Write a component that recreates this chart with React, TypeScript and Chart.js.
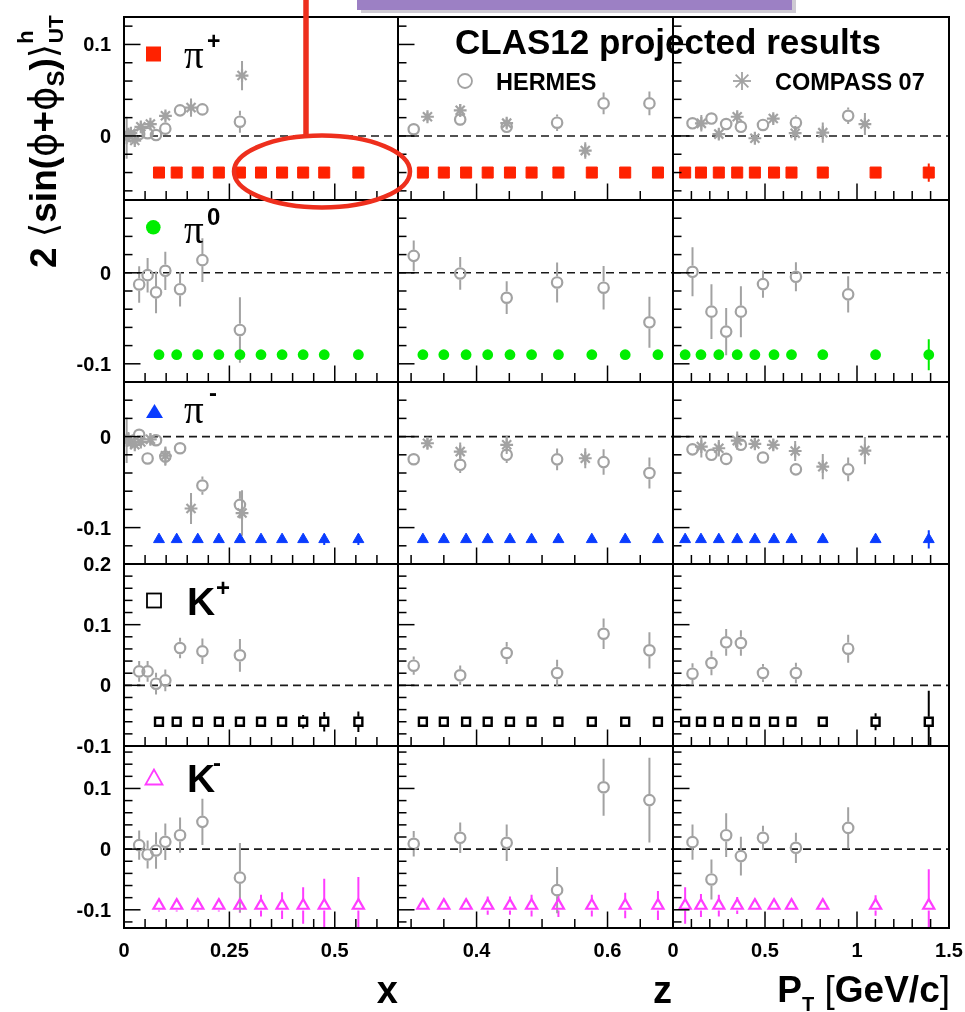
import React, { useEffect, useRef } from 'react';
import { Chart, registerables } from 'chart.js';

Chart.register(...registerables);

// ---------- kinematic bins ----------
const hermesX = [0.036, 0.056, 0.076, 0.098, 0.133, 0.186, 0.275];
const hermesZ = [0.304, 0.375, 0.446, 0.523, 0.594, 0.664];
const hermesPT = [0.106, 0.209, 0.289, 0.369, 0.489, 0.668, 0.952];
const compassX = [0.0063, 0.0105, 0.0164, 0.0256, 0.0399, 0.0626, 0.0983, 0.159, 0.28];
const compassZ = [0.325, 0.375, 0.446, 0.566];
const compassPT = [0.154, 0.249, 0.349, 0.445, 0.545, 0.664, 0.814, 1.043];
const clasX = [0.083, 0.125, 0.175, 0.225, 0.275, 0.325, 0.375, 0.425, 0.475, 0.556];
const clasZ = [0.318, 0.35, 0.384, 0.417, 0.451, 0.484, 0.525, 0.576, 0.627, 0.677];
const clasPT = [0.066, 0.152, 0.249, 0.349, 0.445, 0.549, 0.644, 0.814, 1.101, 1.39];

// ---------- pi+ ----------
const pipHermesX = [0.002, 0.003, 0.001, 0.008, 0.028, 0.029, 0.0156];
const pipHermesXErr = [0.006, 0.005, 0.005, 0.005, 0.005, 0.006, 0.012];
const pipHermesZ = [0.0073, 0.018, 0.01, 0.0145, 0.0356, 0.0356];
const pipHermesZErr = [0.004, 0.007, 0.006, 0.009, 0.012, 0.013];
const pipHermesPT = [0.0138, 0.019, 0.013, 0.01, 0.012, 0.0145, 0.022];
const pipHermesPTErr = [0.004, 0.004, 0.004, 0.004, 0.005, 0.008, 0.009];
const pipCompassX = [-0.002, 0.001, 0.003, -0.005, 0.01, 0.013, 0.022, 0.031, 0.066];
const pipCompassXErr = [0.023, 0.008, 0.006, 0.005, 0.005, 0.004, 0.005, 0.01, 0.016];
const pipCompassZ = [0.021, 0.028, 0.014, -0.016];
const pipCompassZErr = [0.005, 0.007, 0.005, 0.009];
const pipCompassPT = [0.0138, 0.002, 0.021, -0.0025, 0.019, 0.003, 0.0036, 0.013];
const pipCompassPTErr = [0.009, 0.005, 0.005, 0.005, 0.005, 0.008, 0.011, 0.012];
const pipClas = [-0.04, -0.04, -0.04, -0.04, -0.04, -0.04, -0.04, -0.04, -0.04, -0.04];
const pipClasXErr = [0.002, 0.002, 0.002, 0.002, 0.002, 0.002, 0.002, 0.002, 0.002, 0.003];
const pipClasZErr = [0.002, 0.002, 0.002, 0.002, 0.002, 0.002, 0.002, 0.002, 0.002, 0.002];
const pipClasPTErr = [0.002, 0.002, 0.002, 0.002, 0.002, 0.002, 0.002, 0.002, 0.003, 0.01];

// ---------- pi0 ----------
const pi0HermesX = [-0.0128, -0.0026, -0.0215, 0.0022, -0.018, 0.0139, -0.0628];
const pi0HermesXErr = [0.02, 0.019, 0.023, 0.021, 0.019, 0.024, 0.036];
const pi0HermesZ = [0.0186, -0.0007, -0.0274, -0.0106, -0.0164, -0.0544];
const pi0HermesZErr = [0.017, 0.018, 0.018, 0.022, 0.024, 0.028];
const pi0HermesPT = [0.0011, -0.0427, -0.0646, -0.0427, -0.0124, -0.0044, -0.0237];
const pi0HermesPTErr = [0.027, 0.03, 0.026, 0.028, 0.015, 0.016, 0.02];
const pi0Clas = [-0.09, -0.09, -0.09, -0.09, -0.09, -0.09, -0.09, -0.09, -0.09, -0.09];
const pi0ClasXErr = [0.002, 0.002, 0.002, 0.002, 0.002, 0.002, 0.002, 0.002, 0.002, 0.003];
const pi0ClasZErr = [0.002, 0.002, 0.002, 0.002, 0.002, 0.002, 0.002, 0.002, 0.002, 0.003];
const pi0ClasPTErr = [0.002, 0.002, 0.002, 0.002, 0.002, 0.002, 0.002, 0.002, 0.003, 0.017];

// ---------- pi- ----------
const pimHermesX = [0.002, -0.024, -0.004, -0.022, -0.0128, -0.0538, -0.075];
const pimHermesXErr = [0.005, 0.005, 0.005, 0.01, 0.005, 0.01, 0.015];
const pimHermesZ = [-0.0249, -0.031, -0.02, -0.025, -0.028, -0.04];
const pimHermesZErr = [0.004, 0.009, 0.009, 0.012, 0.014, 0.017];
const pimHermesPT = [-0.014, -0.02, -0.0245, -0.009, -0.023, -0.036, -0.036];
const pimHermesPTErr = [0.004, 0.005, 0.006, 0.005, 0.004, 0.006, 0.013];
const pimCompassX = [-0.004, -0.003, -0.006, -0.009, -0.006, -0.003, -0.021, -0.079, -0.084];
const pimCompassXErr = [0.025, 0.008, 0.006, 0.005, 0.005, 0.006, 0.01, 0.017, 0.025];
const pimCompassZ = [-0.0073, -0.0165, -0.009, -0.0238];
const pimCompassZErr = [0.006, 0.01, 0.01, 0.011];
const pimCompassPT = [-0.011, -0.0128, -0.0044, -0.008, -0.009, -0.0158, -0.033, -0.0154];
const pimCompassPTErr = [0.012, 0.009, 0.01, 0.006, 0.006, 0.011, 0.014, 0.015];
const pimClas = [-0.113, -0.113, -0.113, -0.113, -0.113, -0.113, -0.113, -0.113, -0.113, -0.113];
const pimClasXErr = [0.002, 0.002, 0.002, 0.002, 0.002, 0.002, 0.002, 0.003, 0.006, 0.006];
const pimClasZErr = [0.002, 0.002, 0.002, 0.002, 0.002, 0.002, 0.002, 0.002, 0.002, 0.003];
const pimClasPTErr = [0.002, 0.002, 0.002, 0.002, 0.002, 0.002, 0.002, 0.002, 0.003, 0.01];

// ---------- K+ ----------
const kpHermesX = [0.023, 0.023, 0.0027, 0.0082, 0.0615, 0.056, 0.0495];
const kpHermesXErr = [0.017, 0.017, 0.018, 0.018, 0.017, 0.021, 0.027];
const kpHermesZ = [0.0324, 0.0165, 0.0533, 0.0203, 0.085, 0.0577];
const kpHermesZErr = [0.015, 0.016, 0.018, 0.022, 0.025, 0.03];
const kpHermesPT = [0.0192, 0.0368, 0.0709, 0.0698, 0.0203, 0.0203, 0.0604];
const kpHermesPTErr = [0.017, 0.02, 0.022, 0.021, 0.015, 0.017, 0.023];
const kpClas = [-0.06, -0.06, -0.06, -0.06, -0.06, -0.06, -0.06, -0.06, -0.06, -0.06];
const kpClasXErr = [0.003, 0.003, 0.003, 0.003, 0.003, 0.003, 0.003, 0.011, 0.016, 0.017];
const kpClasZErr = [0.003, 0.003, 0.003, 0.003, 0.003, 0.003, 0.003, 0.003, 0.003, 0.003];
const kpClasPTErr = [0.003, 0.003, 0.003, 0.003, 0.003, 0.003, 0.003, 0.003, 0.014, 0.051];

// ---------- K- ----------
const kmHermesX = [0.0066, -0.0088, -0.0022, 0.0121, 0.023, 0.045, -0.047];
const kmHermesXErr = [0.024, 0.023, 0.03, 0.03, 0.029, 0.038, 0.057];
const kmHermesZ = [0.0088, 0.0187, 0.0104, -0.0676, 0.102, 0.0808];
const kmHermesZErr = [0.021, 0.025, 0.03, 0.038, 0.047, 0.07];
const kmHermesPT = [0.0115, -0.05, 0.023, -0.0115, 0.0187, 0.0022, 0.035];
const kmHermesPTErr = [0.029, 0.033, 0.036, 0.032, 0.02, 0.025, 0.034];
const kmClas = [-0.093, -0.093, -0.093, -0.093, -0.093, -0.093, -0.093, -0.093, -0.093, -0.093];
const kmClasXErr = [0.01, 0.01, 0.01, 0.01, 0.012, 0.018, 0.022, 0.03, 0.044, 0.047];
const kmClasZErr = [0.006, 0.006, 0.008, 0.015, 0.015, 0.018, 0.019, 0.018, 0.021, 0.024];
const kmClasPTErr = [0.03, 0.019, 0.018, 0.014, 0.008, 0.006, 0.006, 0.006, 0.017, 0.06];

// ---------- axes ----------
const xRanges = [[0, 0.65], [0.28, 0.7], [0, 1.5]];
const yRanges = [[-0.07, 0.13], [-0.12, 0.08], [-0.14, 0.06], [-0.1, 0.2], [-0.13, 0.17]];
const xMinorSteps = [0.05, 0.05, 0.1];
const xMajorSteps = [0.25, 0.2, 0.5];
const yMinorStep = 0.02;
const yMajorStep = 0.1;
const xTickLabels = [[0, 0.25, 0.5], [0.4, 0.6], [0, 0.5, 1, 1.5]];
const yTickLabels = [[0.1, 0], [0, -0.1], [0, -0.1], [0.2, 0.1, 0, -0.1], [0.1, 0, -0.1]];

// ---------- page layout ----------
const colLeft = [124, 398, 673];
const colRight = [398, 673, 949];
const rowTop = [17, 200, 382, 564, 746];
const rowBottom = [200, 382, 564, 746, 928];

const GRAY = '#a2a2a2';
const SANS = '"Liberation Sans", Arial, Helvetica, sans-serif';

type Obs = { x: number[]; y: number[]; e: number[] };
type Style = {
  color: string;
  pointStyle: string;
  radius: number;
  fill: boolean;
  borderWidth: number;
  gap: number;
};

const hadronStyles: Style[] = [
  { color: '#ff2200', pointStyle: 'rect', radius: 7.8, fill: true, borderWidth: 1, gap: 0 },
  { color: '#00ee00', pointStyle: 'circle', radius: 5.4, fill: true, borderWidth: 0, gap: 0 },
  { color: '#0a3cff', pointStyle: 'triangle', radius: 6.3, fill: true, borderWidth: 1, gap: 0 },
  { color: '#000000', pointStyle: 'rect', radius: 5.6, fill: false, borderWidth: 2.4, gap: 5 },
  { color: '#ff3cff', pointStyle: 'triangle', radius: 6.4, fill: false, borderWidth: 2.2, gap: 5 },
];

type PanelData = { hermes: Obs; compass?: Obs; clas: Obs };

const panels: PanelData[][] = [
  [
    { hermes: { x: hermesX, y: pipHermesX, e: pipHermesXErr }, compass: { x: compassX, y: pipCompassX, e: pipCompassXErr }, clas: { x: clasX, y: pipClas, e: pipClasXErr } },
    { hermes: { x: hermesZ, y: pipHermesZ, e: pipHermesZErr }, compass: { x: compassZ, y: pipCompassZ, e: pipCompassZErr }, clas: { x: clasZ, y: pipClas, e: pipClasZErr } },
    { hermes: { x: hermesPT, y: pipHermesPT, e: pipHermesPTErr }, compass: { x: compassPT, y: pipCompassPT, e: pipCompassPTErr }, clas: { x: clasPT, y: pipClas, e: pipClasPTErr } },
  ],
  [
    { hermes: { x: hermesX, y: pi0HermesX, e: pi0HermesXErr }, clas: { x: clasX, y: pi0Clas, e: pi0ClasXErr } },
    { hermes: { x: hermesZ, y: pi0HermesZ, e: pi0HermesZErr }, clas: { x: clasZ, y: pi0Clas, e: pi0ClasZErr } },
    { hermes: { x: hermesPT, y: pi0HermesPT, e: pi0HermesPTErr }, clas: { x: clasPT, y: pi0Clas, e: pi0ClasPTErr } },
  ],
  [
    { hermes: { x: hermesX, y: pimHermesX, e: pimHermesXErr }, compass: { x: compassX, y: pimCompassX, e: pimCompassXErr }, clas: { x: clasX, y: pimClas, e: pimClasXErr } },
    { hermes: { x: hermesZ, y: pimHermesZ, e: pimHermesZErr }, compass: { x: compassZ, y: pimCompassZ, e: pimCompassZErr }, clas: { x: clasZ, y: pimClas, e: pimClasZErr } },
    { hermes: { x: hermesPT, y: pimHermesPT, e: pimHermesPTErr }, compass: { x: compassPT, y: pimCompassPT, e: pimCompassPTErr }, clas: { x: clasPT, y: pimClas, e: pimClasPTErr } },
  ],
  [
    { hermes: { x: hermesX, y: kpHermesX, e: kpHermesXErr }, clas: { x: clasX, y: kpClas, e: kpClasXErr } },
    { hermes: { x: hermesZ, y: kpHermesZ, e: kpHermesZErr }, clas: { x: clasZ, y: kpClas, e: kpClasZErr } },
    { hermes: { x: hermesPT, y: kpHermesPT, e: kpHermesPTErr }, clas: { x: clasPT, y: kpClas, e: kpClasPTErr } },
  ],
  [
    { hermes: { x: hermesX, y: kmHermesX, e: kmHermesXErr }, clas: { x: clasX, y: kmClas, e: kmClasXErr } },
    { hermes: { x: hermesZ, y: kmHermesZ, e: kmHermesZErr }, clas: { x: clasZ, y: kmClas, e: kmClasZErr } },
    { hermes: { x: hermesPT, y: kmHermesPT, e: kmHermesPTErr }, clas: { x: clasPT, y: kmClas, e: kmClasPTErr } },
  ],
];

const fmt = (v: number) => (v === 0 ? '0' : String(v));

// Draws the ROOT-style frame: dashed zero line, vertical error bars,
// inward ticks on the left and bottom edges, frame and tick labels.
const panelFramePlugin = {
  id: 'panelFrame',
  beforeDatasetsDraw(chart: any) {
    const { ctx, chartArea: a } = chart;
    const ys = chart.scales.y;
    ctx.save();
    const y0 = ys.getPixelForValue(0);
    ctx.strokeStyle = '#1a1a1a';
    ctx.lineWidth = 1.6;
    ctx.setLineDash([8, 5]);
    ctx.beginPath();
    ctx.moveTo(a.left, y0);
    ctx.lineTo(a.right, y0);
    ctx.stroke();
    ctx.setLineDash([]);

    ctx.beginPath();
    ctx.rect(a.left, a.top, a.right - a.left, a.bottom - a.top);
    ctx.clip();
    chart.data.datasets.forEach((ds: any, i: number) => {
      const meta = chart.getDatasetMeta(i);
      const errs: number[] = ds.errors || [];
      ctx.strokeStyle = ds.errorColor;
      ctx.lineWidth = 2;
      meta.data.forEach((pt: any, j: number) => {
        const raw = ds.data[j];
        const e = errs[j] || 0;
        const top = ys.getPixelForValue(raw.y + e);
        const bot = ys.getPixelForValue(raw.y - e);
        const gap = ds.errorGap || 0;
        ctx.beginPath();
        if (pt.y - top > gap) {
          ctx.moveTo(pt.x, top);
          ctx.lineTo(pt.x, pt.y - gap);
        }
        if (bot - pt.y > gap) {
          ctx.moveTo(pt.x, pt.y + gap);
          ctx.lineTo(pt.x, bot);
        }
        ctx.stroke();
      });
    });
    ctx.restore();
  },
  afterDatasetsDraw(chart: any) {
    const o = chart.options.plugins.panelFrame;
    const { ctx, chartArea: a } = chart;
    const xs = chart.scales.x;
    const ys = chart.scales.y;
    ctx.save();
    ctx.strokeStyle = '#000';
    ctx.lineWidth = 1.5;

    // y ticks
    for (let k = Math.ceil(ys.min / yMinorStep - 1e-6); k * yMinorStep <= ys.max + 1e-9; k++) {
      const v = k * yMinorStep;
      const p = ys.getPixelForValue(v);
      if (p < a.top + 1.5 || p > a.bottom - 1.5) continue;
      const major = Math.abs(v / yMajorStep - Math.round(v / yMajorStep)) < 1e-6;
      ctx.beginPath();
      ctx.moveTo(a.left, p);
      ctx.lineTo(a.left + (major ? 16.5 : 8.5), p);
      ctx.stroke();
    }
    // x ticks
    const mn = o.xMinor;
    const mj = o.xMajor;
    for (let k = Math.ceil(xs.min / mn - 1e-6); k * mn <= xs.max + 1e-9; k++) {
      const v = k * mn;
      const p = xs.getPixelForValue(v);
      if (p < a.left + 1.5 || p > a.right - 1.5) continue;
      const major = Math.abs(v / mj - Math.round(v / mj)) < 1e-6;
      ctx.beginPath();
      ctx.moveTo(p, a.bottom);
      ctx.lineTo(p, a.bottom - (major ? 16.5 : 9));
      ctx.stroke();
    }
    // frame
    ctx.lineWidth = 2;
    ctx.strokeRect(a.left, a.top, a.right - a.left, a.bottom - a.top);

    // tick labels
    ctx.fillStyle = '#000';
    ctx.font = `bold 20px ${SANS}`;
    ctx.textBaseline = 'alphabetic';
    if (o.yLabels) {
      ctx.textAlign = 'right';
      o.yLabels.forEach((v: number) => ctx.fillText(fmt(v), a.left - 13, ys.getPixelForValue(v) + 7));
    }
    if (o.xLabels) {
      ctx.textAlign = 'center';
      o.xLabels.forEach((v: number) => ctx.fillText(fmt(v), xs.getPixelForValue(v), a.bottom + 29));
    }
    ctx.restore();
  },
};

function buildDatasets(p: PanelData, s: Style) {
  const pts = (o: Obs) => o.x.map((x, i) => ({ x, y: o.y[i] }));
  const sets: any[] = [
    {
      label: 'CLAS12',
      data: pts(p.clas),
      errors: p.clas.e,
      errorColor: s.color,
      errorGap: s.gap,
      pointStyle: s.pointStyle,
      pointRadius: s.radius,
      pointBorderWidth: s.borderWidth,
      pointBorderColor: s.color,
      pointBackgroundColor: s.fill ? s.color : 'rgba(0,0,0,0)',
      clip: 0,
    },
  ];
  sets.push({
    label: 'HERMES',
    data: pts(p.hermes),
    errors: p.hermes.e,
    errorColor: GRAY,
    errorGap: 6.2,
    pointStyle: 'circle',
    pointRadius: 5.2,
    pointBorderWidth: 2.2,
    pointBorderColor: GRAY,
    pointBackgroundColor: 'rgba(0,0,0,0)',
    clip: 0,
  });
  if (p.compass) {
    sets.push({
      label: 'COMPASS 07',
      data: pts(p.compass),
      errors: p.compass.e,
      errorColor: GRAY,
      errorGap: 0,
      pointStyle: 'star',
      pointRadius: 6.4,
      pointBorderWidth: 2.2,
      pointBorderColor: GRAY,
      pointBackgroundColor: 'rgba(0,0,0,0)',
      clip: 0,
    });
  }
  return sets;
}

function Panel({ row, col }: { row: number; col: number }) {
  const ref = useRef<HTMLCanvasElement>(null);
  const padL = col === 0 ? 70 : 12;
  const padR = 16;
  const padT = 14;
  const padB = row === 4 ? 40 : 14;
  const w = colRight[col] - colLeft[col] + padL + padR;
  const h = rowBottom[row] - rowTop[row] + padT + padB;

  useEffect(() => {
    if (!ref.current) return;
    const chart = new Chart(ref.current, {
      type: 'scatter',
      data: { datasets: buildDatasets(panels[row][col], hadronStyles[row]) },
      options: {
        animation: false,
        responsive: false,
        maintainAspectRatio: false,
        events: [],
        layout: { padding: { left: padL, right: padR, top: padT, bottom: padB }, autoPadding: false },
        scales: {
          x: { type: 'linear', min: xRanges[col][0], max: xRanges[col][1], display: false },
          y: { type: 'linear', min: yRanges[row][0], max: yRanges[row][1], display: false },
        },
        plugins: {
          legend: { display: false },
          tooltip: { enabled: false },
          panelFrame: {
            xMinor: xMinorSteps[col],
            xMajor: xMajorSteps[col],
            yLabels: col === 0 ? yTickLabels[row] : null,
            xLabels: row === 4 ? xTickLabels[col] : null,
          },
        } as any,
      },
      plugins: [panelFramePlugin],
    } as any);
    return () => chart.destroy();
  }, [row, col]);

  return (
    <canvas
      ref={ref}
      width={w}
      height={h}
      style={{ position: 'absolute', left: colLeft[col] - padL, top: rowTop[row] - padT, width: w, height: h }}
    />
  );
}

function Overlay() {
  const bold = { fontFamily: SANS, fontWeight: 700 as const };
  const serif = '"Liberation Serif", "DejaVu Serif", serif';
  const asterisk = (cx: number, cy: number, r: number) => {
    const d = r * Math.SQRT1_2;
    return (
      <g stroke={GRAY} strokeWidth={1.8}>
        <line x1={cx - r} y1={cy} x2={cx + r} y2={cy} />
        <line x1={cx} y1={cy - r} x2={cx} y2={cy + r} />
        <line x1={cx - d} y1={cy - d} x2={cx + d} y2={cy + d} />
        <line x1={cx - d} y1={cy + d} x2={cx + d} y2={cy - d} />
      </g>
    );
  };
  return (
    <svg
      width={965}
      height={1012}
      style={{ position: 'absolute', left: 0, top: 0, pointerEvents: 'none' }}
    >
      {/* title and legend */}
      <text x={455} y={54} fontSize={35} {...bold}>CLAS12 projected results</text>
      <circle cx={465} cy={81} r={7} fill="none" stroke={GRAY} strokeWidth={1.8} />
      <text x={496} y={90} fontSize={23.5} {...bold}>HERMES</text>
      {asterisk(742, 81, 9)}
      <text x={775} y={90} fontSize={23.5} {...bold}>COMPASS 07</text>

      {/* hadron labels */}
      <rect x={146} y={46.5} width={15} height={15} fill="#ff2200" />
      <text x={184} y={68} fontSize={39} fontFamily={serif}>π</text>
      <text x={207} y={49} fontSize={23} {...bold}>+</text>

      <circle cx={153.3} cy={227.3} r={7.3} fill="#00ee00" />
      <text x={184} y={243} fontSize={39} fontFamily={serif}>π</text>
      <text x={207} y={225} fontSize={24} {...bold}>0</text>

      <polygon points="154.5,404 146,418 163,418" fill="#0a3cff" />
      <text x={184} y={423} fontSize={39} fontFamily={serif}>π</text>
      <text x={209} y={401} fontSize={24} {...bold}>-</text>

      <rect x={147} y={593.5} width={14} height={14} fill="none" stroke="#000" strokeWidth={1.8} />
      <text x={187} y={615} fontSize={39} {...bold}>K</text>
      <text x={216} y={596} fontSize={24} {...bold}>+</text>

      <polygon points="154,769.5 145.5,784.5 162.5,784.5" fill="none" stroke="#ff3cff" strokeWidth={1.8} />
      <text x={187} y={792} fontSize={39} {...bold}>K</text>
      <text x={213} y={771} fontSize={24} {...bold}>-</text>

      {/* y-axis title */}
      <text transform="translate(56,268) rotate(-90)" fontSize={37} {...bold}>
        <tspan>2 </tspan>
        <tspan fontFamily='"DejaVu Sans", sans-serif' fontWeight={400}>⟨</tspan>
        <tspan>sin(</tspan>
        <tspan fontFamily='"DejaVu Sans", sans-serif' fontWeight={400}>ϕ</tspan>
        <tspan>+</tspan>
        <tspan fontFamily='"DejaVu Sans", sans-serif' fontWeight={400}>ϕ</tspan>
        <tspan fontSize={24} dy={8}>S</tspan>
        <tspan dy={-8}>)</tspan>
        <tspan fontFamily='"DejaVu Sans", sans-serif' fontWeight={400}>⟩</tspan>
        <tspan fontSize={22} dy={-23}>h</tspan>
        <tspan fontSize={21} dx={-13} dy={30}>UT</tspan>
      </text>

      {/* x-axis titles */}
      <text x={398} y={1003} fontSize={38} textAnchor="end" {...bold}>x</text>
      <text x={672} y={1003} fontSize={38} textAnchor="end" {...bold}>z</text>
      <text x={950} y={1002} fontSize={37} textAnchor="end" {...bold}>
        <tspan>P</tspan>
        <tspan fontSize={20} dy={9}>T</tspan>
        <tspan dy={-9} fontWeight={400}> [</tspan>
        <tspan>GeV/c</tspan>
        <tspan fontWeight={400}>]</tspan>
      </text>

      {/* slide annotations */}
      <rect x={361} y={-20} width={435} height={33} fill="#b9b3c0" opacity={0.7} />
      <rect x={357} y={-20} width={435} height={30} fill="#9c80c4" />
      <line x1={306} y1={0} x2={306} y2={137} stroke="#ee2f1d" strokeWidth={5.5} />
      <ellipse cx={322} cy={171.5} rx={88} ry={36} fill="none" stroke="#ee2f1d" strokeWidth={4.5} />
    </svg>
  );
}

export default function App() {
  const cells: JSX.Element[] = [];
  for (let r = 0; r < 5; r++) {
    for (let c = 0; c < 3; c++) {
      cells.push(<Panel key={`${r}-${c}`} row={r} col={c} />);
    }
  }
  return (
    <div
      style={{
        position: 'absolute',
        left: 0,
        top: 0,
        width: 965,
        height: 1012,
        background: '#fff',
        overflow: 'hidden',
      }}
    >
      {cells}
      <Overlay />
    </div>
  );
}
